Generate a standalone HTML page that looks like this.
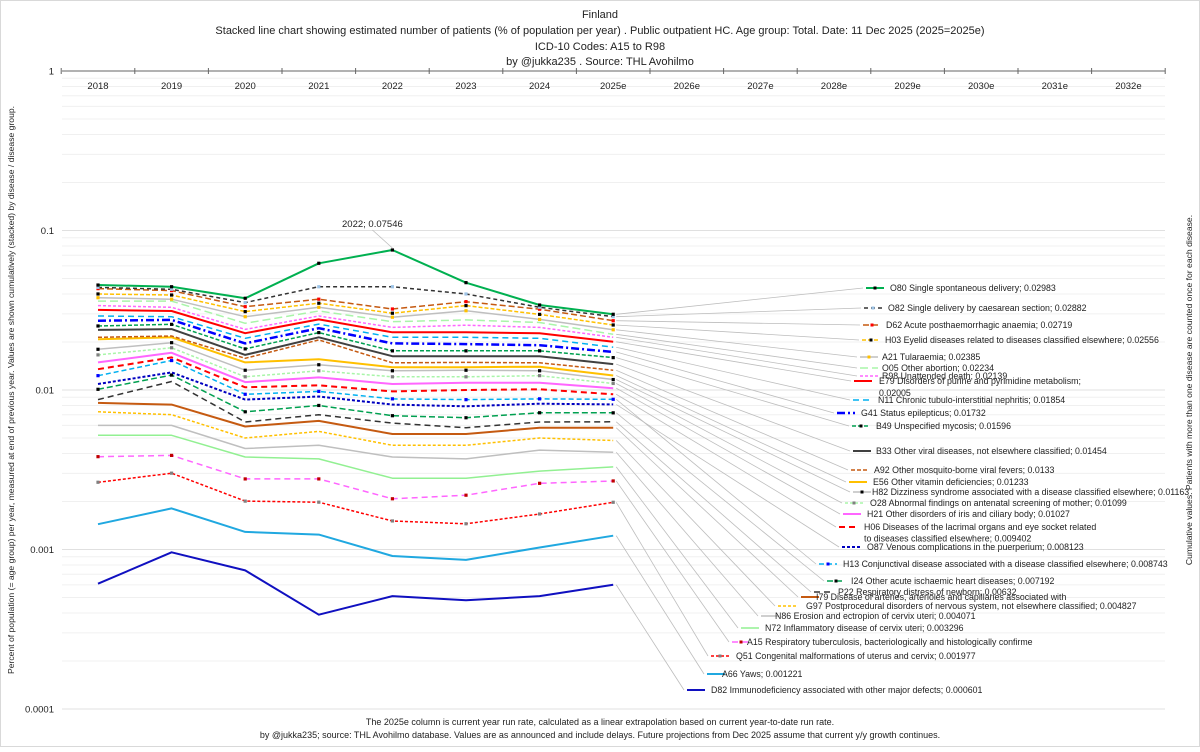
<!DOCTYPE html>
<html><head><meta charset="utf-8"><style>
html,body{margin:0;padding:0;background:#fff;}
svg text{font-family:"Liberation Sans",sans-serif;fill:#222;}
</style></head><body>
<svg id="chart" width="1200" height="747" xmlns="http://www.w3.org/2000/svg">
<rect x="0.5" y="0.5" width="1199" height="746" fill="#fff" stroke="#d9d9d9"/>
<g font-size="11" text-anchor="middle">
<text x="600" y="18">Finland</text>
<text x="600" y="34">Stacked line chart showing estimated number of patients  (% of population per year) . Public outpatient HC. Age group: Total. Date: 11 Dec 2025 (2025=2025e)</text>
<text x="600" y="50">ICD-10 Codes: A15 to R98</text>
<text x="600" y="65">by @jukka235 . Source: THL Avohilmo</text>
</g>
<text font-size="8.6" text-anchor="middle" transform="translate(14,390) rotate(-90)">Percent of population (= age group) per year, measured at end of previous year. Values are shown cumulatively (stacked) by disease / disease group.</text>
<text font-size="8.6" text-anchor="middle" transform="translate(1192,390) rotate(-90)">Cumulative values. Patients with more than one disease are counted once for each disease.</text>
<g id="grid"></g><g id="axis"></g><g id="leaders"></g><g id="series"></g><g id="legend"></g>
<g font-size="9" text-anchor="middle">
<text x="600" y="725">The 2025e column is current year run rate, calculated as a linear extrapolation based on current year-to-date run rate.</text>
<text x="600" y="738">by @jukka235; source: THL Avohilmo database. Values are as announced and include delays. Future projections from Dec 2025 assume that current y/y growth continues.</text>
</g>
</svg>
<script>
const categories=["2018","2019","2020","2021","2022","2023","2024","2025e","2026e","2027e","2028e","2029e","2030e","2031e","2032e"];
const yTicks=[1,0.1,0.01,0.001,0.0001];
const yTickLabels=["1","0.1","0.01","0.001","0.0001"];
const seriesNames=["O80 Single spontaneous delivery; 0.02983","O82 Single delivery by caesarean section; 0.02882","D62 Acute posthaemorrhagic anaemia; 0.02719","H03 Eyelid diseases related to diseases classified elsewhere; 0.02556","A21 Tularaemia; 0.02385","O05 Other abortion; 0.02234","R98 Unattended death; 0.02139","E79 Disorders of purine and pyrimidine metabolism;","N11 Chronic tubulo-interstitial nephritis; 0.01854","G41 Status epilepticus; 0.01732","B49 Unspecified mycosis; 0.01596","B33 Other viral diseases, not elsewhere classified; 0.01454","A92 Other mosquito-borne viral fevers; 0.0133","E56 Other vitamin deficiencies; 0.01233","H82 Dizziness syndrome associated with a disease classified elsewhere; 0.01163","O28 Abnormal findings on antenatal screening of mother; 0.01099","H21 Other disorders of iris and ciliary body; 0.01027","H06 Diseases of the lacrimal organs and eye socket related","O87 Venous complications in the puerperium; 0.008123","H13 Conjunctival disease associated with a disease classified elsewhere; 0.008743","I24 Other acute ischaemic heart diseases; 0.007192","P22 Respiratory distress of newborn; 0.00632","I79 Disease of arteries, arterioles and capillaries associated with","G97 Postprocedural disorders of nervous system, not elsewhere classified; 0.004827","N86 Erosion and ectropion of cervix uteri; 0.004071","N72 Inflammatory disease of cervix uteri; 0.003296","A15 Respiratory tuberculosis, bacteriologically and histologically confirme","Q51 Congenital malformations of uterus and cervix; 0.001977","A66 Yaws; 0.001221","D82 Immunodeficiency associated with other major defects; 0.000601"];
const sO80=[0.0455,0.0444,0.0376,0.0623,0.07546,0.0471,0.0341,0.02983];
const sO82=[0.0440,0.0428,0.0353,0.0444,0.0444,0.0400,0.0330,0.02882];
const sD62=[0.0432,0.0420,0.0333,0.0371,0.0322,0.0358,0.0321,0.02719];
const sH03=[0.0400,0.0394,0.0310,0.0350,0.0303,0.0338,0.0298,0.02556];
const sA21=[0.0379,0.0371,0.0288,0.0330,0.0286,0.0314,0.0277,0.02385];
const sO05=[0.0361,0.0361,0.0262,0.0313,0.0268,0.0275,0.0265,0.02234];
const sR98=[0.0338,0.0330,0.0240,0.0291,0.0247,0.0255,0.0247,0.02139];
const sE79=[0.0318,0.0313,0.0227,0.0277,0.0230,0.0230,0.0227,0.02005];
const sN11=[0.0291,0.0288,0.0211,0.0259,0.0214,0.0214,0.0211,0.01854];
const sG41=[0.0272,0.0275,0.0196,0.0244,0.0196,0.0194,0.0191,0.01732];
const sB49=[0.0252,0.0258,0.0181,0.0229,0.0176,0.0176,0.0176,0.01596];
const sB33=[0.0238,0.0241,0.0166,0.0214,0.0163,0.0163,0.0163,0.01454];
const sA92=[0.0214,0.0218,0.0158,0.0206,0.0148,0.0149,0.0148,0.0133];
const sE56=[0.0208,0.0214,0.0149,0.0156,0.0139,0.0139,0.0140,0.01233];
const sH82=[0.0180,0.0198,0.0133,0.0144,0.0132,0.0133,0.0132,0.01163];
const sO28=[0.0166,0.0184,0.0121,0.0132,0.0121,0.0121,0.0123,0.01099];
const sH21=[0.0149,0.0171,0.0112,0.0120,0.0109,0.0111,0.0111,0.01027];
const sH06=[0.0135,0.0160,0.0104,0.0107,0.0098,0.0100,0.0101,0.009402];
const sO87=[0.0109,0.0129,0.0087,0.0091,0.0081,0.0079,0.0082,0.008123];
const sH13=[0.0123,0.0153,0.0094,0.0098,0.0088,0.0087,0.0088,0.008743];
const sI24=[0.0101,0.0124,0.0073,0.0080,0.0069,0.0067,0.0072,0.007192];
const sP22=[0.0087,0.0113,0.0063,0.0070,0.0062,0.0058,0.0063,0.00632];
const sI79=[0.0083,0.0081,0.0059,0.0064,0.0053,0.0053,0.0058,0.0058];
const sG97=[0.0073,0.0070,0.0050,0.0055,0.0045,0.0045,0.0050,0.004827];
const sN86=[0.0060,0.0060,0.0043,0.0045,0.0038,0.0037,0.0042,0.004071];
const sN72=[0.0052,0.0052,0.0038,0.0037,0.0028,0.0028,0.0031,0.003296];
const sA15=[0.00382,0.00389,0.00277,0.00277,0.00208,0.00219,0.00260,0.00269];
const sQ51=[0.00264,0.00301,0.00201,0.00198,0.00151,0.00145,0.00167,0.001977];
const sA66=[0.00144,0.00181,0.00129,0.00124,0.00091,0.00086,0.00103,0.001221];
const sD82=[0.00061,0.00096,0.00074,0.00039,0.00051,0.00048,0.00051,0.000601];
const seriesValues=[sO80,sO82,sD62,sH03,sA21,sO05,sR98,sE79,sN11,sG41,sB49,sB33,sA92,sE56,sH82,sO28,sH21,sH06,sO87,sH13,sI24,sP22,sI79,sG97,sN86,sN72,sA15,sQ51,sA66,sD82];
const peakLabel="2022; 0.07546";

const styles=[["#00b050","",2,"#000"],["#333","4,3",1.5,"#9dc3e6"],["#c55a11","6,3",1.5,"#ff0000"],["#ffc000","4,2",1.5,"#000"],["#bfbfbf","",1.5,"#ffc000"],["#a9f5a9","8,4",1.5,""],["#ff66ff","3,2",1.5,""],["#ff0000","",2,""],["#00b0f0","6,4",1.5,""],["#0000ff","8,3,2,3",2.5,""],["#00a050","4,2",1.5,"#000"],["#404040","",2,""],["#c55a11","4,2",1.5,""],["#ffc000","",2,""],["#bfbfbf","",1.5,"#000"],["#a9f5a9","3,2",1.5,"#808080"],["#ff66ff","",2,""],["#ff0000","6,4",2,""],["#0000c0","3,2",2,""],["#00b0f0","5,3",1.5,"#0000ff"],["#00a050","6,3",1.5,"#000"],["#333","6,4",1.5,""],["#c55a11","",2,""],["#ffc000","3,2",1.5,""],["#bfbfbf","",1.5,""],["#92f092","",1.5,""],["#ff66ff","6,4",1.5,"#c00000"],["#ff0000","3,2",1.5,"#808080"],["#20a8e0","",2,""],["#1010c0","",2,""]];
const legendPos=[[866,890,288],[864,888,308],[863,886,325],[862,885,340],[860,882,357],[860,882,368],[860,882,376],[854,879,381],[853,878,400],[837,861,413],[852,876,426],[853,876,451],[851,874,470],[849,873,482],[853,872,492],[845,870,503],[843,867,514],[839,864,527],[842,867,547],[819,843,564],[827,851,581],[814,838,592],[801,816,597],[778,806,606],[761,775,616],[741,765,628],[732,747,642],[711,736,656],[707,722,674],[687,711,690]];

const NS="http://www.w3.org/2000/svg";
function mk(tag,attrs,parent){const e=document.createElementNS(NS,tag);for(const k in attrs)e.setAttribute(k,attrs[k]);parent.appendChild(e);return e;}
const x0=98,step=73.6,yTop=71,dec=159.5;
function xS(i){return x0+step*i;}
function yS(v){return yTop-dec*Math.log10(v);}

const grid=document.getElementById('grid');
for(let d=0;d<4;d++){for(let m=2;m<=9;m++){const v=Math.pow(10,-d-1)*m;const l=mk('line',{x1:62,x2:1165,y1:yS(v),y2:yS(v),stroke:'#f0f0f0','stroke-width':1},grid);

}}
const axis=document.getElementById('axis');
yTicks.forEach((v,i)=>{
 if(i>0){const l=mk('line',{x1:62,x2:1165,y1:yS(v),y2:yS(v),stroke:'#e0e0e0','stroke-width':1},grid);
 
 }
 const t=mk('text',{x:54,y:yS(v)+3.5,'font-size':9.5,'text-anchor':'end'},axis);t.textContent=yTickLabels[i];
 
 
});
const ax=mk('line',{x1:62,x2:1165,y1:yTop,y2:yTop,stroke:'#666','stroke-width':1},axis);


for(let k=0;k<=15;k++){const xx=x0-step/2+step*k;const tk=mk('line',{x1:xx,x2:xx,y1:yTop-3,y2:yTop+3,stroke:'#666'},axis);

}
categories.forEach((c,i)=>{const t=mk('text',{x:xS(i),y:89,'font-size':9.5,'text-anchor':'middle'},axis);t.textContent=c;

});

const leaders=document.getElementById('leaders');
const sg=document.getElementById('series');
const lg=document.getElementById('legend');
for(let s=seriesValues.length-1;s>=0;s--){
 const vals=seriesValues[s],st=styles[s];
 const pts=vals.map((v,i)=>xS(i).toFixed(1)+','+yS(v).toFixed(1)).join(' ');
 const lp=legendPos[s];
 const ld=mk('line',{x1:xS(7)+3,y1:yS(vals[7]),x2:lp[0]-3,y2:lp[2],stroke:'#bdbdbd','stroke-width':0.8},leaders);
 
 
 const pl=mk('polyline',{points:pts,fill:'none',stroke:st[0],'stroke-width':st[2],'stroke-dasharray':st[1],'stroke-linejoin':'round'},sg);
 
 
 if(st[3]){vals.forEach((v,i)=>{const r=mk('rect',{x:xS(i)-1.6,y:yS(v)-1.6,width:3.2,height:3.2,fill:st[3]},sg);
 
 });}
 const sym=mk('line',{x1:lp[0],x2:lp[0]+18,y1:lp[2],y2:lp[2],stroke:st[0],'stroke-width':st[2],'stroke-dasharray':st[1]},lg);
 
 
 if(st[3]){const r=mk('rect',{x:lp[0]+7.5,y:lp[2]-1.5,width:3,height:3,fill:st[3]},lg);
 
 }
 const t=mk('text',{x:lp[1],y:lp[2]+3.2,'font-size':8.8},lg);t.textContent=seriesNames[s];
 
 
}
const t2=mk('text',{x:879,y:396,'font-size':8.8},lg);t2.textContent="0.02005";


const t3=mk('text',{x:864,y:541.5,'font-size':8.8},lg);t3.textContent="to diseases classified elsewhere; 0.009402";


const pl2=mk('line',{x1:xS(4),y1:yS(sO80[4])-2,x2:xS(4)-20,y2:yS(sO80[4])-20,stroke:'#bdbdbd','stroke-width':0.8},leaders);


const pt=mk('text',{x:xS(4)-20,y:yS(sO80[4])-23,'font-size':9.5,'text-anchor':'middle'},lg);pt.textContent=peakLabel;


</script>
</body></html>
